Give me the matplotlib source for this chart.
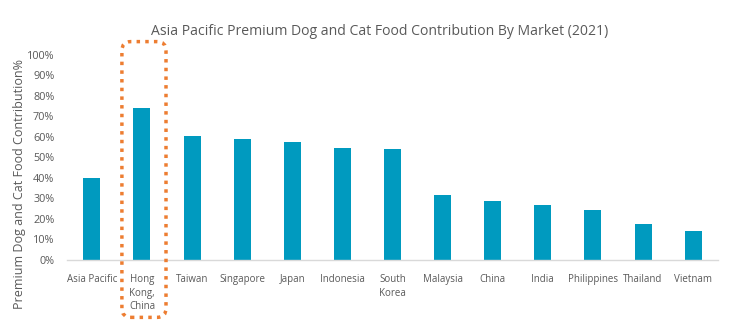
import matplotlib.pyplot as plt
from matplotlib.patches import FancyBboxPatch
from matplotlib.ticker import FuncFormatter
from matplotlib.transforms import IdentityTransform

markets = ["Asia Pacific", "Hong\nKong,\nChina", "Taiwan", "Singapore", "Japan",
           "Indonesia", "South\nKorea", "Malaysia", "China", "India",
           "Philippines", "Thailand", "Vietnam"]
contribution = [0.40, 0.74, 0.605, 0.59, 0.575, 0.545, 0.54, 0.315, 0.29,
                0.27, 0.245, 0.175, 0.14]
highlight = 1  # Hong Kong gets the dotted box

BAR = "#009ABF"
TXT = "#595959"
ORANGE = "#ED7D31"

plt.rcParams["font.family"] = ["Open Sans", "DejaVu Sans"]

fig = plt.figure(figsize=(7.42, 3.35), dpi=100, facecolor="white")
ax = fig.add_axes([0.090, 0.224, 0.878, 0.612])

x = range(len(markets))
ax.bar(x, contribution, width=0.34, color=BAR, zorder=2)

ax.set_xlim(-0.5, len(markets) - 0.5)
ax.set_ylim(0, 1.0)
ax.set_yticks([i / 10 for i in range(11)])
ax.yaxis.set_major_formatter(FuncFormatter(lambda v, _: f"{v:.0%}"))
ax.set_xticks(list(x))
ax.set_xticklabels(markets, fontsize=7, color=TXT, linespacing=1.35, va="top")
ax.tick_params(axis="y", labelsize=7.8, colors=TXT, length=0, pad=9)
ax.tick_params(axis="x", length=0, pad=10)

for side in ["top", "right", "left"]:
    ax.spines[side].set_visible(False)
ax.spines["bottom"].set_color("#D9D9D9")
ax.spines["bottom"].set_linewidth(1)

ax.set_ylabel("Premium Dog and Cat Food Contribution%", fontsize=9, color=TXT)
ax.yaxis.set_label_coords(-0.063, 0.37)
fig.text(0.512, 0.905, "Asia Pacific Premium Dog and Cat Food Contribution By Market (2021)",
         ha="center", va="center", fontsize=10.1, color=TXT)

# dotted call-out around the highlighted market, laid out in pixels so the
# rounded corners stay round
x0, y0 = ax.transData.transform((highlight - 0.40, -0.28))
x1, y1 = ax.transData.transform((highlight + 0.48, 1.065))
box = FancyBboxPatch((x0, y0), x1 - x0, y1 - y0,
                     boxstyle="round,pad=0,rounding_size=9",
                     transform=IdentityTransform(), clip_on=False, fill=False,
                     edgecolor=ORANGE, linewidth=2.5, linestyle=(0, (1, 1.5)),
                     zorder=3)
fig.add_artist(box)

fig.savefig("out.png", dpi=100, facecolor="white")
